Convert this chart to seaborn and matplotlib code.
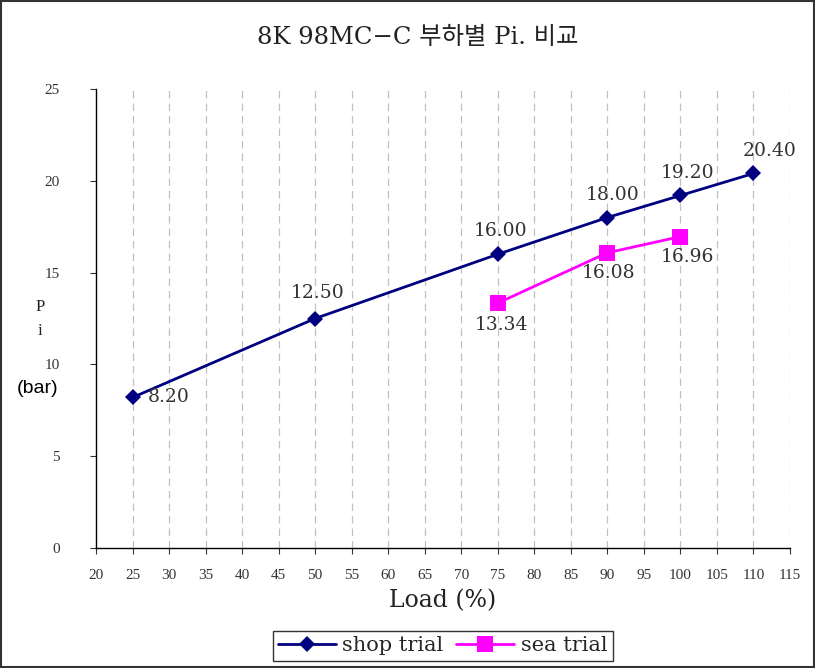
import matplotlib
matplotlib.use("Agg")
import matplotlib.pyplot as plt
import seaborn as sns
import pandas as pd
from matplotlib.patches import Rectangle
from matplotlib.lines import Line2D

shop_load = [25, 50, 75, 90, 100, 110]
shop_pi = [8.20, 12.50, 16.00, 18.00, 19.20, 20.40]
sea_load = [75, 90, 100]
sea_pi = [13.34, 16.08, 16.96]
x_ticks = list(range(20, 120, 5))
y_ticks = [0, 5, 10, 15, 20, 25]

sns.set_style("white")
SERIF = ["Liberation Serif", "Noto Sans CJK KR", "DejaVu Sans"]
DSERIF = ["DejaVu Serif", "Noto Sans CJK KR", "DejaVu Sans"]
plt.rcParams["font.family"] = SERIF

df = pd.concat([
    pd.DataFrame({"Load": shop_load, "Pi": shop_pi, "series": "shop trial"}),
    pd.DataFrame({"Load": sea_load, "Pi": sea_pi, "series": "sea trial"}),
])

fig = plt.figure(figsize=(8.15, 6.68), dpi=100)
ax = fig.add_axes([0.1178, 0.1796, 0.8515, 0.6872])

palette = {"shop trial": "#000080", "sea trial": "#FF00FF"}
sns.lineplot(data=df, x="Load", y="Pi", hue="series", style="series",
             markers={"shop trial": "D", "sea trial": "s"}, dashes=False,
             palette=palette, ax=ax, linewidth=2, legend=False,
             markeredgewidth=0)
for line, ms in zip(ax.lines, [8, 11]):
    line.set_markersize(ms)

ax.set_xlim(20, 115)
ax.set_ylim(0, 25)
ax.set_xticks(x_ticks)
ax.set_yticks(y_ticks)
ax.tick_params(axis="both", labelsize=11, colors="#333333", length=4, direction="out",
               bottom=True, left=True)
ax.tick_params(axis="x", pad=11)
ax.tick_params(axis="y", pad=22)
for t in ax.get_xticklabels() + ax.get_yticklabels():
    t.set_color("#333333")
for x in x_ticks[1:]:
    ax.axvline(x, color="#c0c0c0", linestyle=(0, (6, 4)), linewidth=0.9, zorder=0)
for s in ["top", "right"]:
    ax.spines[s].set_visible(False)
for s in ["left", "bottom"]:
    ax.spines[s].set_color("black")
    ax.spines[s].set_linewidth(1.0)
ax.set_xlabel("Load (%)", fontsize=17, color="#222222", labelpad=5, family=DSERIF)
ax.set_ylabel("")

# data labels (offsets in points)
shop_off = [(11, 0, "left", "center"), (2, 12, "center", "bottom"), (2, 10, "center", "bottom"),
            (4, 10, "center", "bottom"), (5, 10, "center", "bottom"), (12, 10, "center", "bottom")]
for (x, y), (dx, dy, ha, va) in zip(zip(shop_load, shop_pi), shop_off):
    ax.annotate(f"{y:.2f}", (x, y), xytext=(dx, dy), textcoords="offset points",
                ha=ha, va=va, fontsize=13.5, color="#333333", family=DSERIF)
sea_off = [(3, -9), (1, -8), (5, -8)]
for (x, y), (dx, dy) in zip(zip(sea_load, sea_pi), sea_off):
    ax.annotate(f"{y:.2f}", (x, y), xytext=(dx, dy), textcoords="offset points",
                ha="center", va="top", fontsize=13.5, color="#333333", family=DSERIF)

fig.text(0.513, 0.944, "8K 98MC\u2212C 부하별 Pi. 비교", ha="center", va="center",
         fontsize=17.5, color="#222222", family=DSERIF)
fig.text(0.049, 0.540, "P", ha="center", va="center", fontsize=12, color="#222222")
fig.text(0.049, 0.505, "i", ha="center", va="center", fontsize=12, color="#222222")
fig.text(0.046, 0.419, "(bar)", ha="center", va="center", fontsize=14,
         color="black", family=["Liberation Sans", "DejaVu Sans"])

# legend
handles = [Line2D([], [], color="#000080", marker="D", markersize=8, linewidth=2, markeredgewidth=0),
           Line2D([], [], color="#FF00FF", marker="s", markersize=11, linewidth=2, markeredgewidth=0)]
leg = fig.legend(handles, ["shop trial", "sea trial"], loc="center",
                 bbox_to_anchor=(0.543, 0.033), ncol=2, frameon=True, fancybox=False,
                 prop={"family": DSERIF, "size": 15}, handlelength=2.8, columnspacing=0.6,
                 handletextpad=0.3, borderpad=0.25)
leg.get_frame().set_edgecolor("black")
leg.get_frame().set_linewidth(1.0)

fig.patches.append(Rectangle((0.001, 0.001), 0.998, 0.998, transform=fig.transFigure,
                             fill=False, edgecolor="#333333", linewidth=1.5))

fig.savefig("out.png", dpi=100)
